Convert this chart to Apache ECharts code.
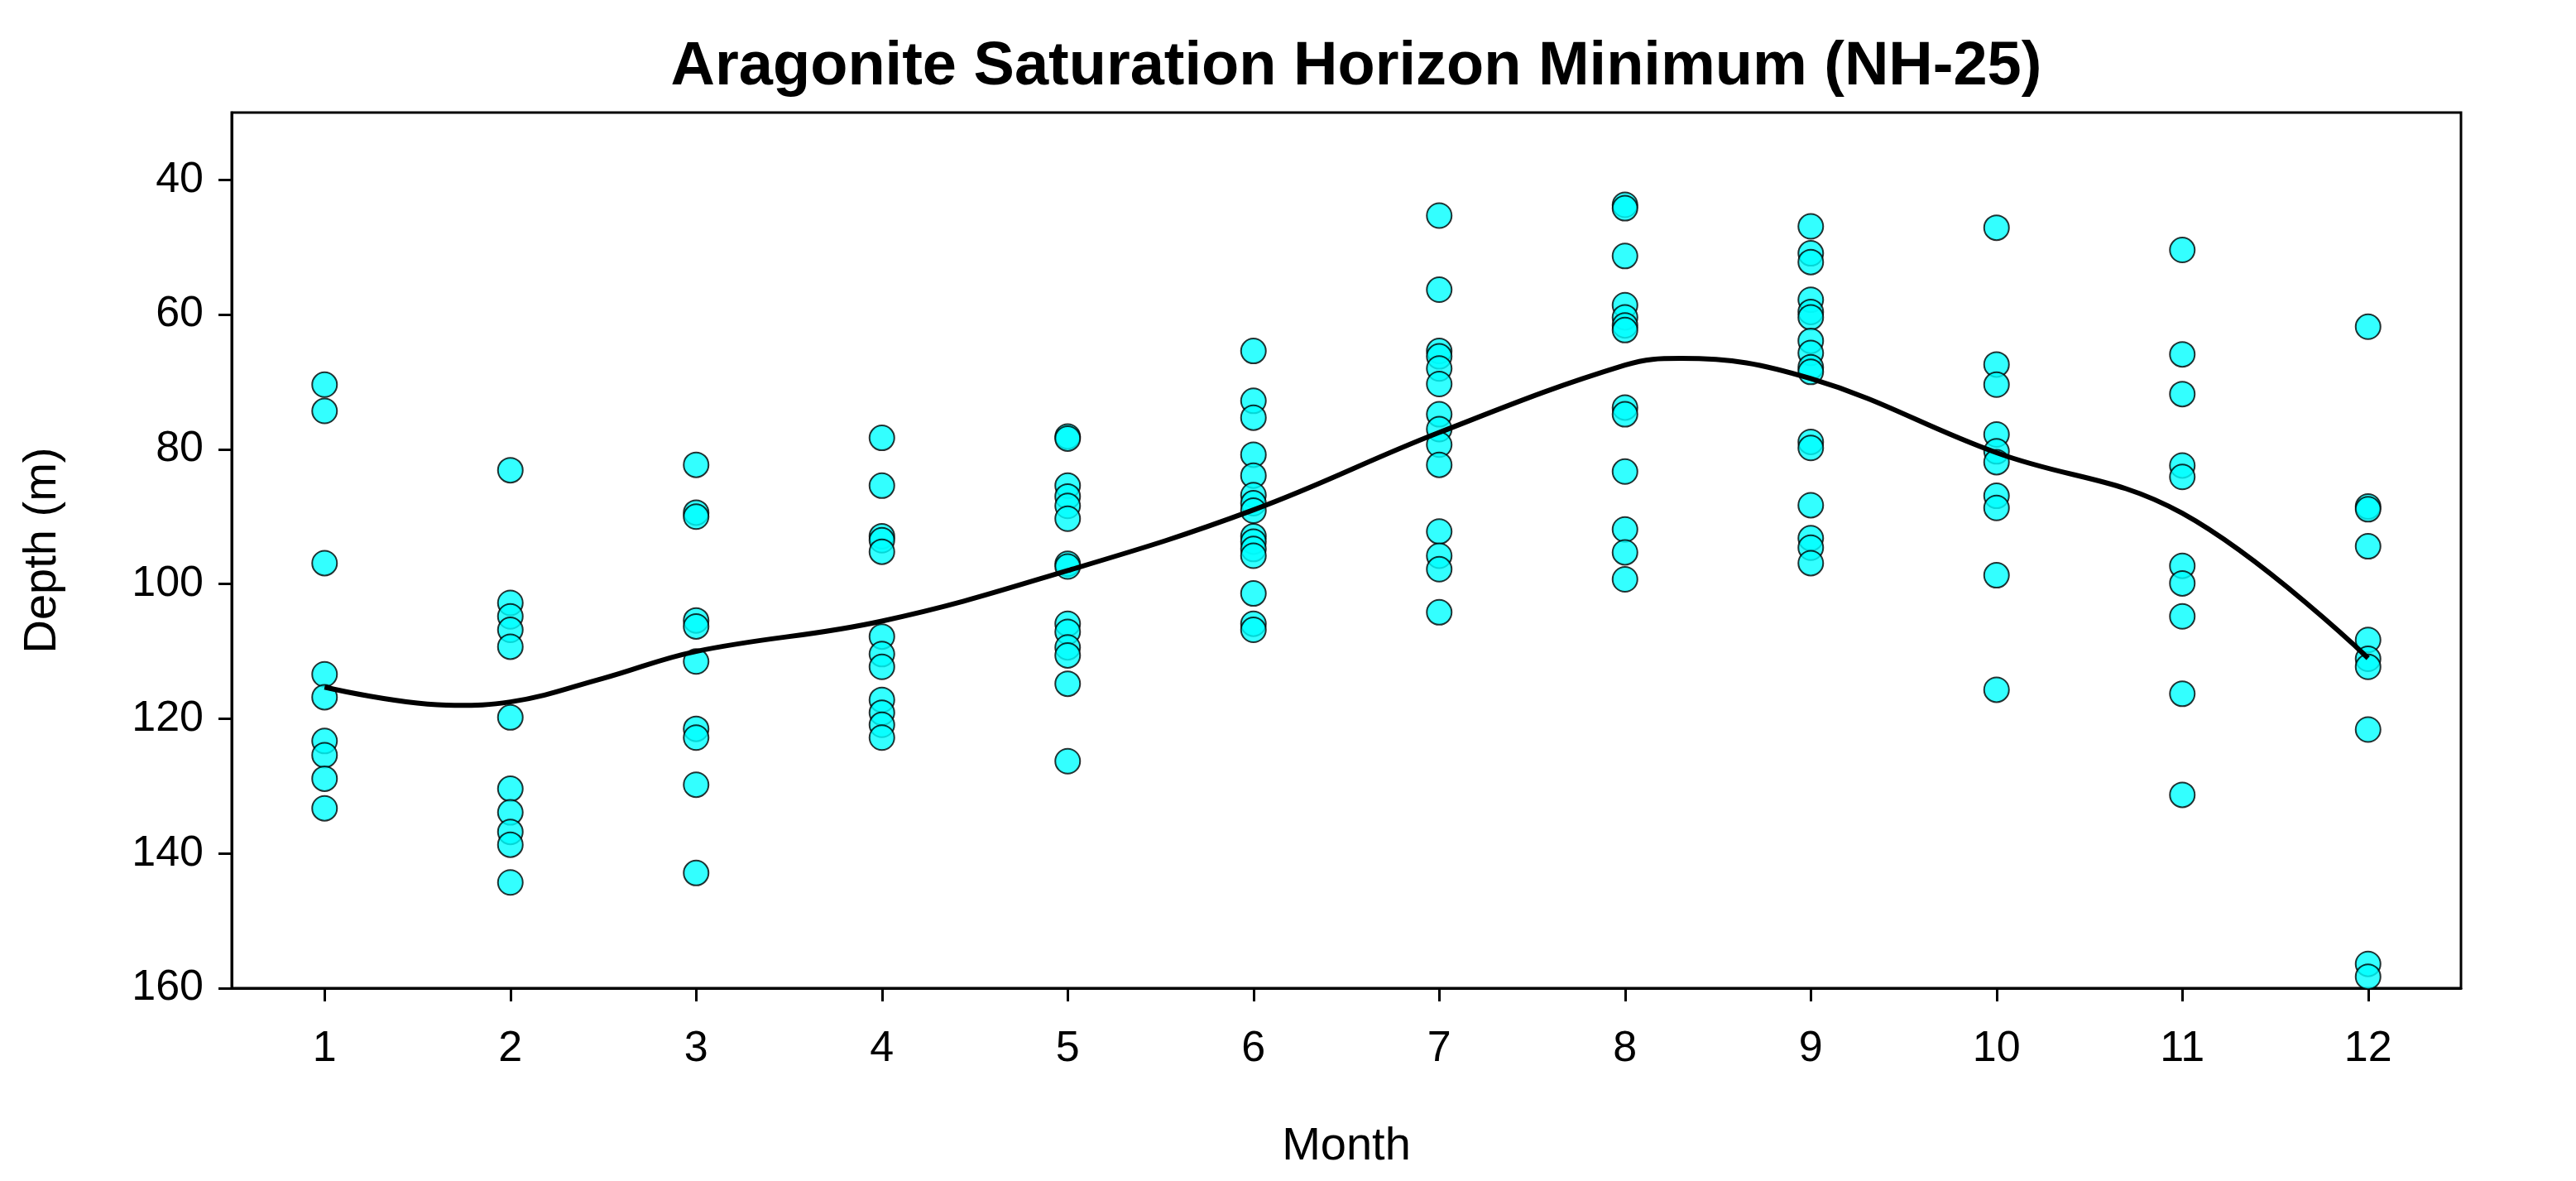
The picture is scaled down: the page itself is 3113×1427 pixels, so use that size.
<!DOCTYPE html>
<html>
<head>
<meta charset="UTF-8">
<title>Aragonite Saturation Horizon Minimum</title>
<script src="https://cdn.jsdelivr.net/npm/echarts@6/dist/echarts.min.js"></script>
<style>
  html, body { margin: 0; padding: 0; background: #fff; }
  #chart { width: 3113px; height: 1427px; }
</style>
</head>
<body>
<div id="chart"></div>
<script>
// depth values (m) per month
var m1 = [70.4, 74.3, 96.9, 113.4, 116.8, 123.3, 125.4, 128.9, 133.3];
var m2 = [83.1, 102.8, 104.8, 106.8, 109.3, 119.8, 130.4, 133.9, 136.8, 138.7, 144.3];
var m3 = [82.3, 89.4, 90, 105.4, 106.3, 111.5, 121.5, 122.8, 129.8, 142.9];
var m4 = [78.3, 85.4, 92.9, 93.5, 95.2, 107.8, 110.4, 112.3, 117.2, 119.1, 120.9, 122.8];
var m5 = [78.1, 78.4, 85.4, 87, 88.4, 90.3, 97, 97.4, 105.9, 107.1, 109.4, 110.6, 114.8, 126.3];
var m6 = [65.4, 72.8, 75.3, 80.8, 83.9, 86.8, 88, 89.1, 92.9, 93.7, 94.8, 95.8, 101.4, 105.9, 106.8];
var m7 = [45.3, 56.3, 65.4, 66.2, 68, 70.3, 74.8, 77, 79.3, 82.3, 92.2, 95.8, 97.8, 104.2];
var m8 = [43.7, 44.2, 51.3, 58.6, 60.4, 61.6, 62.3, 73.8, 74.8, 83.3, 91.9, 95.3, 99.3];
var m9 = [46.9, 50.9, 52.2, 57.8, 59.6, 60.4, 63.9, 65.7, 67.8, 68.5, 78.9, 79.8, 88.3, 93.2, 94.6, 96.9];
var m10 = [47.1, 67.4, 70.4, 77.8, 80.3, 81.9, 86.9, 88.7, 98.7, 115.7];
var m11 = [50.4, 65.9, 71.8, 82.4, 84.1, 97.3, 99.9, 104.8, 116.3, 131.3];
var m12 = [61.8, 88.5, 88.9, 94.4, 108.3, 111.1, 112.3, 121.6, 156.4, 158.3];
var months = [m1, m2, m3, m4, m5, m6, m7, m8, m9, m10, m11, m12];

// smoothed curve
var lineX = [1, 1.7, 2, 2.5, 3, 4, 5, 6, 7, 8, 8.3, 9, 10, 11, 12];
var lineY = [115.3, 118, 117.5, 114, 110, 105.5, 98, 89, 77.5, 67.5, 66.5, 69.5, 80.5, 89.5, 111];

var xTicks = [1, 2, 3, 4, 5, 6, 7, 8, 9, 10, 11, 12];
var yTicks = [40, 60, 80, 100, 120, 140, 160];

var points = [];
months.forEach(function (vals, i) {
  vals.forEach(function (v) { points.push([i + 1, v]); });
});
var lineData = lineX.map(function (x, i) { return [x, lineY[i]]; });

var chart = echarts.init(document.getElementById('chart'));
chart.setOption({
  animation: false,
  backgroundColor: '#fff',
  title: {
    text: 'Aragonite Saturation Horizon Minimum (NH-25)',
    left: 1634, top: 40, textAlign: 'center',
    textStyle: { fontFamily: 'Liberation Sans, Arial', fontWeight: 'bold', fontSize: 74, color: '#000' }
  },
  grid: { left: 280, top: 136, right: 139, bottom: 233, show: true, borderColor: '#000', borderWidth: 3 },
  xAxis: {
    type: 'value', min: 0.5, max: 12.5,
    name: 'Month', nameLocation: 'middle', nameGap: 164,
    nameTextStyle: { fontFamily: 'Liberation Sans, Arial', fontSize: 56, color: '#000' },
    axisLine: { show: true, lineStyle: { color: '#000', width: 3 } },
    axisTick: { show: true, length: 16, customValues: xTicks, lineStyle: { color: '#000', width: 3 } },
    axisLabel: { customValues: xTicks, margin: 48, fontFamily: 'Liberation Sans, Arial', fontSize: 52, color: '#000' },
    splitLine: { show: false }
  },
  yAxis: {
    type: 'value', min: 30, max: 160, inverse: true,
    name: 'Depth (m)', nameLocation: 'middle', nameGap: 200, nameRotate: 90,
    nameTextStyle: { fontFamily: 'Liberation Sans, Arial', fontSize: 56, color: '#000' },
    axisLine: { show: true, lineStyle: { color: '#000', width: 3 } },
    axisTick: { show: true, length: 16, customValues: yTicks, lineStyle: { color: '#000', width: 3 } },
    axisLabel: { customValues: yTicks, margin: 34, fontFamily: 'Liberation Sans, Arial', fontSize: 52, color: '#000' },
    splitLine: { show: false }
  },
  series: [
    {
      type: 'scatter', data: points, symbol: 'circle', symbolSize: 30,
      itemStyle: { color: '#00FFFF', borderColor: '#000', borderWidth: 2 }, z: 2
    },
    {
      type: 'line', data: lineData, smooth: 0.4, showSymbol: false,
      lineStyle: { color: '#000', width: 6 }, z: 3
    }
  ]
});
</script>
</body>
</html>
